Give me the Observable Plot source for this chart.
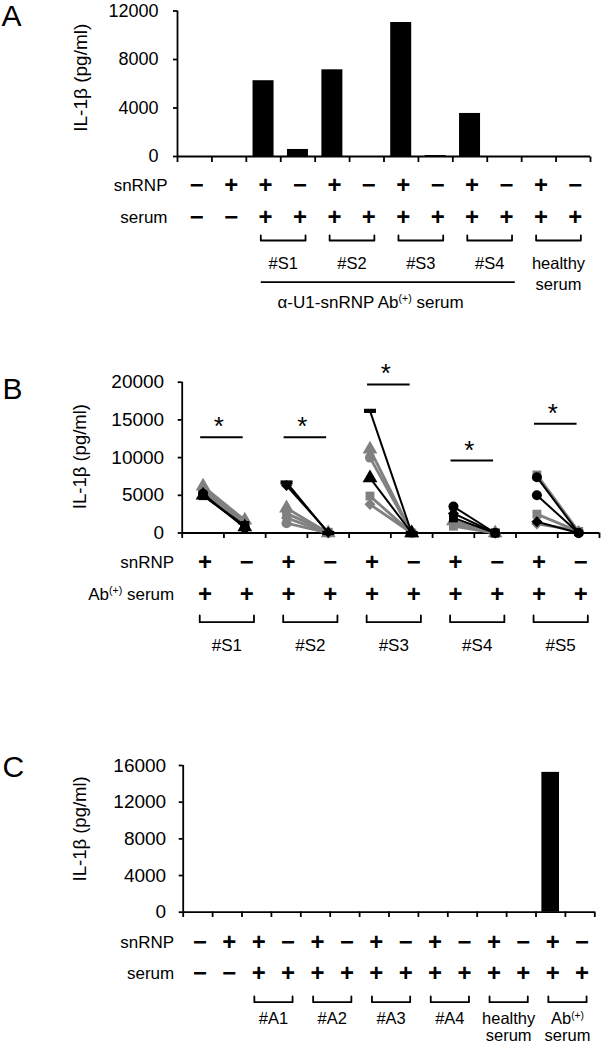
<!DOCTYPE html>
<html><head><meta charset="utf-8">
<script src="https://cdn.jsdelivr.net/npm/d3@7"></script>
<script src="https://cdn.jsdelivr.net/npm/@observablehq/plot@0.6"></script>
<style>
body{margin:0;background:#fff;}
#wrap{position:relative;width:606px;height:1050px;overflow:hidden;}
#wrap svg{position:absolute;left:0;overflow:visible;}
</style></head><body><div id="wrap"></div>
<script>
const FONT = '"Liberation Sans", Arial, "DejaVu Sans", sans-serif';
const GRAY = "#808080";

// ---------- Panel A data ----------
const aSnrnp = ["−","+","+","−","+","−","+","−","+","−","+","−"];
const aSerum = ["−","−","+","+","+","+","+","+","+","+","+","+"];
const aValues = [0, 0, 6250, 580, 7150, 0, 11050, 80, 3550, 0, 0, 0];
const aYTicks = [0, 4000, 8000, 12000];
const aGroups = ["#S1", "#S2", "#S3", "#S4", "healthy\nserum"];
const aGroupStart = [2, 4, 6, 8, 10];
const aSpanLabel = "α-U1-snRNP Ab(+) serum";

// ---------- Panel B data ----------
const bGroups = ["#S1", "#S2", "#S3", "#S4", "#S5"];
const bSnrnp = ["+","−","+","−","+","−","+","−","+","−"];
const bSerum = ["+","+","+","+","+","+","+","+","+","+"];
const bWithSnrnp = [
  [4950, 5200, 6200, 5800, 5500, 5000],
  [6700, 6300, 3300, 2600, 2000, 1300],
  [16200, 11100, 10000, 7300, 4900, 3800],
  [3500, 2600, 2000, 1600, 1200, 900],
  [7700, 7400, 5000, 2500, 1500, 1200]
];
const bWithoutSnrnp = [
  [1000, 700, 1700, 1400, 1200, 800],
  [0, 100, 0, 100, 0, 0],
  [0, 0, 0, 0, 0, 0],
  [0, 0, 0, 0, 0, 0],
  [200, 0, 0, 200, 0, 300]
];
const bMarkers = [
  ["square", "circle", "triangle", "diamond2", "circle", "triangle"],
  ["dash", "diamond2", "triangle", "square", "diamond2", "circle"],
  ["dash", "triangle", "circle", "triangle", "square", "diamond2"],
  ["circle", "diamond2", "square", "triangle", "diamond2", "square"],
  ["square", "circle", "circle", "square", "diamond2", "diamond2"]
];
const bShades = [
  ["black", "black", "gray", "gray", "gray", "black"],
  ["black", "black", "gray", "gray", "gray", "gray"],
  ["black", "gray", "gray", "black", "gray", "gray"],
  ["black", "black", "black", "gray", "gray", "gray"],
  ["gray", "black", "black", "gray", "black", "gray"]
];
const bSig = [12700, 12700, 19700, 9600, 14500];
const bYTicks = [0, 5000, 10000, 15000, 20000];

// ---------- Panel C data ----------
const cSnrnp = ["−","+","+","−","+","−","+","−","+","−","+","−","+","−"];
const cSerum = ["−","−","+","+","+","+","+","+","+","+","+","+","+","+"];
const cValues = [0, 0, 0, 0, 0, 0, 0, 0, 0, 0, 0, 0, 15250, 0];
const cYTicks = [0, 4000, 8000, 12000, 16000];
const cGroups = ["#A1", "#A2", "#A3", "#A4", "healthy\nserum", "Ab(+)\nserum"];
const cGroupStart = [2, 4, 6, 8, 10, 12];

// ---------- helpers ----------
const wrap = document.getElementById("wrap");
function place(svg, top) {
  svg.style.top = top + "px";
  superscript(svg);
  wrap.appendChild(svg);
}
function superscript(svg) {
  svg.querySelectorAll("text, tspan").forEach(el => {
    if (el.children.length) return;
    const t = el.textContent;
    const k = t.indexOf("(+)");
    if (k < 0) return;
    el.textContent = "";
    el.appendChild(document.createTextNode(t.slice(0, k)));
    const s = document.createElementNS("http://www.w3.org/2000/svg", "tspan");
    s.setAttribute("baseline-shift", "super");
    s.setAttribute("font-size", "0.62em");
    s.textContent = "(+)";
    el.appendChild(s);
    el.appendChild(document.createTextNode(t.slice(k + 3)));
  });
}
const baseStyle = {fontFamily: FONT, fontSize: "17px", color: "black", background: "transparent", overflow: "visible"};
const dashSymbol = {draw(ctx, size) { const r = Math.sqrt(size / Math.PI); ctx.rect(-1.2 * r, -0.42 * r, 2.4 * r, 0.84 * r); }};

function bracketPoints(starts, top, bottom) {
  const pts = [];
  starts.forEach((s, gi) => {
    const l = s + 0.5 - 0.08, r = s + 1.5 + 0.22;
    pts.push({g: gi, x: l, y: top}, {g: gi, x: l, y: bottom}, {g: gi, x: r, y: bottom}, {g: gi, x: r, y: top});
  });
  return pts;
}

function annotation({n, marginLeft, marginRight, height, snrnp, serum, serumLabel, labelDx, rowY, bracketY, starts, groups, groupY, groupFont, groupLine, rowFont, extra = []}) {
  return Plot.plot({
    width: 606, height, marginTop: 0, marginBottom: 0, marginLeft, marginRight,
    x: {domain: [0, n], axis: null},
    y: {type: "identity", axis: null},
    style: baseStyle,
    marks: [
      Plot.link(d3.range(n + 1), {x1: d => d, x2: d => d, y1: 0, y2: 5.5, strokeWidth: 1.8, stroke: "black"}),
      Plot.text(["snRNP"], {frameAnchor: "left", y: rowY[0], dx: labelDx, textAnchor: "end", text: d => d, fontSize: rowFont}),
      Plot.text([serumLabel], {frameAnchor: "left", y: rowY[1], dx: labelDx, textAnchor: "end", text: d => d, fontSize: rowFont}),
      Plot.text(snrnp, {x: (d, i) => i + 0.5, y: rowY[0], dx: 2, text: d => d, fontSize: 24, fontWeight: "bold"}),
      Plot.text(serum, {x: (d, i) => i + 0.5, y: rowY[1], dx: 2, text: d => d, fontSize: 24, fontWeight: "bold"}),
      Plot.line(bracketPoints(starts, bracketY[0], bracketY[1]), {x: "x", y: "y", z: "g", stroke: "black", strokeWidth: 1.8}),
      Plot.text(groups, {x: (d, i) => starts[i] + 1 + 0.07, y: groupY, text: d => d, lineAnchor: "top", fontSize: groupFont, lineHeight: groupLine}),
      ...extra
    ]
  });
}

// ---------- Panel A ----------
const chartA = Plot.plot({
  width: 606, height: 170, marginTop: 10.5, marginBottom: 14, marginLeft: 177, marginRight: 16,
  x: {domain: [0, aValues.length], axis: null},
  y: {domain: [0, 12000]},
  style: baseStyle,
  marks: [
    Plot.rectY(aValues, {x1: (d, i) => i + 0.195, x2: (d, i) => i + 0.805, y: d => d, fill: "black"}),
    Plot.ruleY([0], {strokeWidth: 1.8}),
    Plot.ruleX([0], {strokeWidth: 1.8}),
    Plot.axisY({ticks: aYTicks, tickSize: 4, tickPadding: 15, fontSize: 18, strokeWidth: 1.8, label: null, tickFormat: d => String(d)}),
    Plot.text(["A"], {frameAnchor: "top-left", text: d => d, textAnchor: "start", lineAnchor: "top", dx: -176, dy: -6.5, fontSize: 30}),
    Plot.text(["IL-1β (pg/ml)"], {frameAnchor: "left", text: d => d, textAnchor: "middle", rotate: -90, dx: -97, dy: -6, fontSize: 19})
  ]
});
place(chartA, 0);

const annA = annotation({
  n: aSnrnp.length, marginLeft: 177, marginRight: 16, height: 160,
  snrnp: aSnrnp, serum: aSerum, serumLabel: "serum", labelDx: -10, rowY: [29, 60.7], bracketY: [79, 84],
  starts: aGroupStart, groups: aGroups, groupY: 97.3, groupFont: 16.5, groupLine: 1.3, rowFont: 17,
  extra: [
    Plot.link([0], {x1: aGroupStart[0] + 0.5 - 0.08, x2: aGroupStart[3] + 1.5 + 0.3, y1: 125.7, y2: 125.7, stroke: "black", strokeWidth: 1.8}),
    Plot.text([aSpanLabel], {x: aGroupStart[0] + 0.5, dx: 14, y: 139, text: d => d, textAnchor: "start", lineAnchor: "top", fontSize: 17})
  ]
});
place(annA, 156);

// ---------- Panel B ----------
const bRows = [];
bGroups.forEach((g, gi) => bWithSnrnp[gi].forEach((v, j) => {
  const shade = bShades[gi][j] === "black" ? "black" : GRAY;
  const id = g + "-" + j;
  bRows.push({id, x: gi * 2 + 0.5, y: v, marker: bMarkers[gi][j], shade});
  bRows.push({id, x: gi * 2 + 1.5, y: bWithoutSnrnp[gi][j], marker: bMarkers[gi][j], shade});
}));
const symbolOf = m => m === "dash" ? dashSymbol : m;
function dotMarks(shade) {
  const rows = bRows.filter(r => r.shade === shade);
  return [...new Set(rows.map(r => r.marker))].map(m =>
    Plot.dot(rows.filter(r => r.marker === m), {x: "x", y: "y", fill: shade, stroke: "none", symbol: symbolOf(m), r: m === "triangle" ? 5.5 : 5})
  );
}
const chartB = Plot.plot({
  width: 606, height: 200, marginTop: 41.7, marginBottom: 7.5, marginLeft: 181.7, marginRight: 7,
  x: {domain: [0, bSnrnp.length], axis: null},
  y: {domain: [0, 20000]},
  style: baseStyle,
  marks: [
    Plot.ruleY([0], {strokeWidth: 1.8}),
    Plot.ruleX([0], {strokeWidth: 1.8}),
    Plot.axisY({ticks: bYTicks, tickSize: 4, tickPadding: 14, fontSize: 19, strokeWidth: 1.8, label: null, tickFormat: d => String(d)}),
    Plot.line(bRows.filter(r => r.shade === GRAY), {x: "x", y: "y", z: "id", stroke: GRAY, strokeWidth: 2.8}),
    ...dotMarks(GRAY),
    Plot.line(bRows.filter(r => r.shade === "black"), {x: "x", y: "y", z: "id", stroke: "black", strokeWidth: 2}),
    ...dotMarks("black"),
    Plot.link(bSig, {x1: (d, i) => 2 * i + 0.5 - 0.07, x2: (d, i) => 2 * i + 1.5 - 0.05, y1: d => d, y2: d => d, stroke: "black", strokeWidth: 2}),
    Plot.text(bSig, {x: (d, i) => 2 * i + 1 - 0.12, y: d => d, text: () => "*", lineAnchor: "bottom", dy: -2, fontSize: 26}),
    Plot.text(["B"], {frameAnchor: "top-left", text: d => d, textAnchor: "start", lineAnchor: "top", dx: -179.7, dy: -4.7, fontSize: 30}),
    Plot.text(["IL-1β (pg/ml)"], {frameAnchor: "left", text: d => d, textAnchor: "middle", rotate: -90, dx: -101.7, dy: -1, fontSize: 18.5})
  ]
});
place(chartB, 340);

const annB = annotation({
  n: bSnrnp.length, marginLeft: 181.7, marginRight: 7, height: 125,
  snrnp: bSnrnp, serum: bSerum, serumLabel: "Ab(+) serum", labelDx: -8, rowY: [29.7, 62], bracketY: [83, 89.7],
  starts: bGroups.map((g, i) => 2 * i), groups: bGroups, groupY: 105, groupFont: 17, groupLine: 1.1, rowFont: 17
});
place(annB, 532);

// ---------- Panel C ----------
const chartC = Plot.plot({
  width: 606, height: 186, marginTop: 25, marginBottom: 14.3, marginLeft: 182.7, marginRight: 11.7,
  x: {domain: [0, cValues.length], axis: null},
  y: {domain: [0, 16000]},
  style: baseStyle,
  marks: [
    Plot.rectY(cValues, {x1: (d, i) => i + 0.2, x2: (d, i) => i + 0.8, y: d => d, fill: "black"}),
    Plot.ruleY([0], {strokeWidth: 1.8}),
    Plot.ruleX([0], {strokeWidth: 1.8}),
    Plot.axisY({ticks: cYTicks, tickSize: 4, tickPadding: 13, fontSize: 19, strokeWidth: 1.8, label: null, tickFormat: d => String(d)}),
    Plot.text(["C"], {frameAnchor: "top-left", text: d => d, textAnchor: "start", lineAnchor: "top", dx: -180.7, dy: -10, fontSize: 30}),
    Plot.text(["IL-1β (pg/ml)"], {frameAnchor: "left", text: d => d, textAnchor: "middle", rotate: -90, dx: -102.7, dy: -10, fontSize: 18.5})
  ]
});
place(chartC, 740);

const annC = annotation({
  n: cSnrnp.length, marginLeft: 182.7, marginRight: 11.7, height: 139,
  snrnp: cSnrnp, serum: cSerum, serumLabel: "serum", labelDx: -9, rowY: [30.7, 62.3], bracketY: [85, 90.7],
  starts: cGroupStart, groups: cGroups, groupY: 101, groupFont: 16.5, groupLine: 1.0, rowFont: 17
});
place(annC, 911);
</script>
</body></html>
